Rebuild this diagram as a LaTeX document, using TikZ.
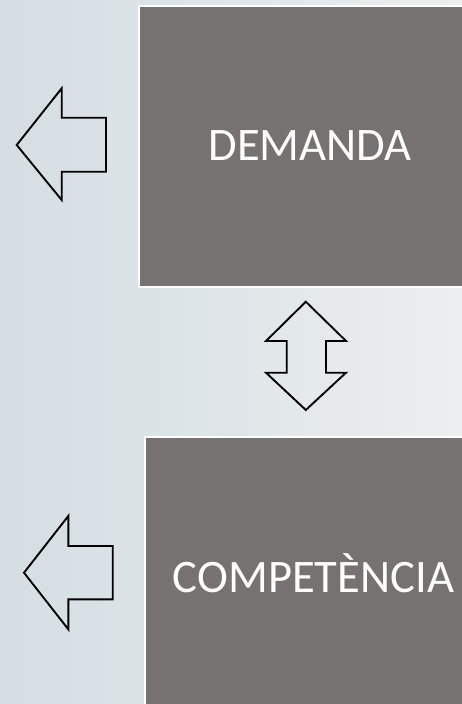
\documentclass[tikz,border=0pt]{standalone}
\usepackage{fontspec}
\setmainfont{Carlito}
\definecolor{boxgray}{HTML}{767271}
\definecolor{bgleft}{HTML}{D4DEE3}
\definecolor{bgmid}{HTML}{E0E6E9}
\definecolor{bgright}{HTML}{EDEEEF}
\begin{document}
\begin{tikzpicture}[x=1pt,y=-1pt,
  bigbox/.style={fill=boxgray,draw=white,line width=2pt,inner sep=0pt,
    text=white,font=\fontsize{46.6}{50}\selectfont},
  outline/.style={draw=black,line width=1.9pt,line join=miter,fill=none}]
\useasboundingbox (0,0) rectangle (462,704);
\clip (0,0) rectangle (462,704);
\shade[left color=bgleft,right color=bgmid] (0,0) rectangle (231,704);
\shade[left color=bgmid,right color=bgright] (231,0) rectangle (462,704);
% boxes
\node[bigbox,minimum width=342pt,minimum height=281pt] (demanda) at (310,146) {DEMANDA};
\node[bigbox,minimum width=338pt,minimum height=272pt] (competencia) at (313.5,573) {COMPETÈNCIA};
% left arrow (top)
\draw[outline] (16.7,145) -- (61.7,88.3) -- (61.7,117.7) -- (106,117.7) -- (106,171.7)
  -- (61.7,171.7) -- (61.7,200) -- cycle;
% left arrow (bottom)
\draw[outline] (24,572.7) -- (68.3,516) -- (68.3,546) -- (112.7,546) -- (112.7,599.3)
  -- (68.3,599.3) -- (68.3,629.3) -- cycle;
% double arrow
\draw[outline] (305.8,301.7) -- (346,341) -- (326,341) -- (326,372.7) -- (346,372.7)
  -- (305.8,410) -- (266,372.7) -- (286.7,372.7) -- (286.7,341) -- (266,341) -- cycle;
\end{tikzpicture}
\end{document}
